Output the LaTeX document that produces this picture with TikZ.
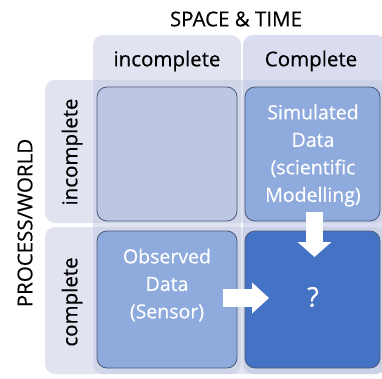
\documentclass[tikz,border=0pt]{standalone}
\usepackage{fontspec}
\setmainfont{Open Sans}[FakeBold=0.35]
\usetikzlibrary{arrows.meta}
\definecolor{bandA}{HTML}{B8BFDB}
\definecolor{bandB}{HTML}{A4AFD8}
\definecolor{cellL}{HTML}{BDC7E3}
\definecolor{cellM}{HTML}{8FAADC}
\definecolor{cellD}{HTML}{4472C4}
\definecolor{cellEdge}{HTML}{4A5A7A}
\begin{document}
\begin{tikzpicture}[x=1pt,y=-1pt,
  band/.style={fill opacity=0.42, rounded corners=10pt},
  cellbox/.style={draw=cellEdge, line width=0.8pt, rounded corners=10pt, inner sep=0pt},
  hdr/.style={font=\fontsize{20.5}{24}\selectfont, text=black},
  celltxt/.style={font=\fontsize{19.5}{27.5}\selectfont, text=white, align=center}
]
\useasboundingbox (0,0) rectangle (382,379);
% background bands
\fill[bandA, band] (93,35) rectangle (241,374);
\fill[bandB, band] (243,35) rectangle (386,374);
\fill[bandA, band] (45,80) rectangle (386,223);
\fill[bandA, band] (45,227) rectangle (386,374);
% headers
\node[hdr] (title) at (236,19) {SPACE \& TIME};
\node[hdr] (colA) at (167,61) {incomplete};
\node[hdr] (colB) at (311,61) {Complete};
\node[hdr, rotate=90] (rowA) at (72,152) {incomplete};
\node[hdr, rotate=90] (rowB) at (72,302) {complete};
\node[hdr, rotate=90] (axis) at (25,223) {PROCESS/WORLD};
% cells
\node[cellbox, fill=cellL, minimum width=140pt, minimum height=134pt] (c11) at (167,154) {};
\node[cellbox, fill=cellM, minimum width=135pt, minimum height=134pt] (c12) at (312.5,154) {};
\node[cellbox, fill=cellM, minimum width=140pt, minimum height=137pt] (c21) at (167,299.5) {};
\node[cellbox, fill=cellD, minimum width=135pt, minimum height=137pt] (c22) at (312.5,299.5) {};
% cell texts
\node[celltxt] (simtxt) at (313,155.5) {Simulated\\Data\\(scientific\\Modelling)};
\node[celltxt] (obstxt) at (167,285) {Observed\\Data\\(Sensor)};
\node[celltxt, font=\fontsize{27}{32}\selectfont] (qm) at (313,297) {?};
% block arrows
\coordinate (dS) at (314.5,212);
\coordinate (dE) at (314.5,257);
\coordinate (rS) at (223,298);
\coordinate (rE) at (269,298);
\draw[white, line width=17pt, -{Triangle[width=33pt,length=15pt]}] (dS) -- (dE);
\draw[white, line width=18pt, -{Triangle[width=30pt,length=17pt]}] (rS) -- (rE);
\end{tikzpicture}
\end{document}
